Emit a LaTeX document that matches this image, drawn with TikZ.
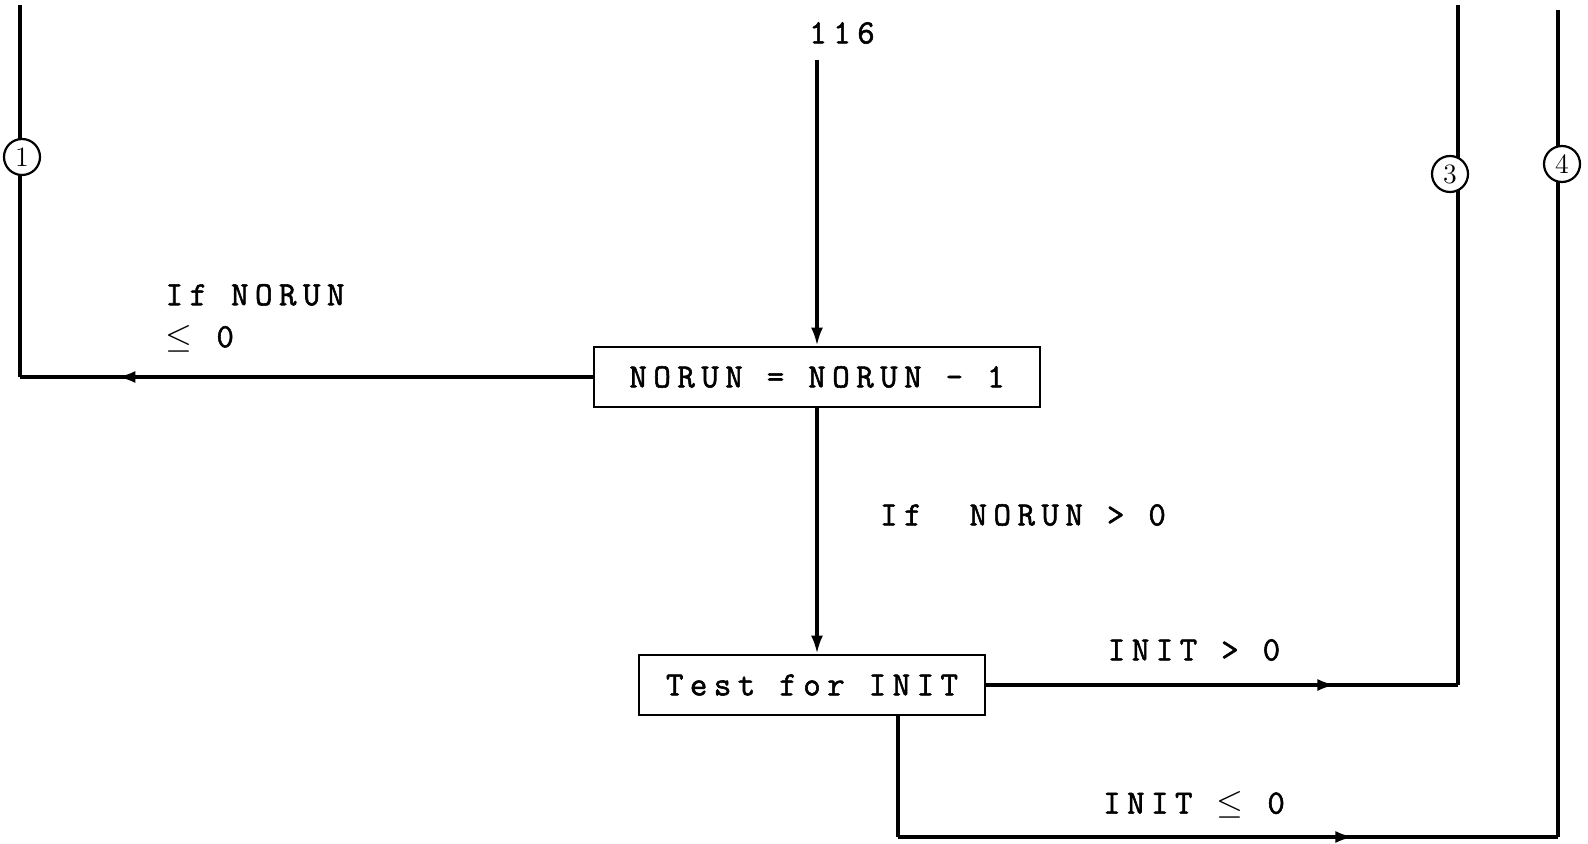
\documentclass[tikz,border=0pt]{standalone}
\usepackage{fontspec}
\setmonofont{Latin Modern Mono}[LetterSpace=19, FakeBold=1.6]
\usetikzlibrary{arrows.meta,decorations.markings}
\tikzset{
  flowbox/.style={draw, line width=1.4pt, font=\ttfamily\fontsize{17}{19}\selectfont, inner sep=0pt, minimum height=30pt},
  flowtext/.style={font=\ttfamily\fontsize{17}{19}\selectfont, inner sep=0pt},
  connector/.style={circle, draw, fill=white, line width=1.1pt, minimum size=18pt, inner sep=0pt, font=\fontsize{14}{14}\selectfont},
  midarrow/.style={postaction={decorate}, decoration={markings, mark=at position #1 with {\arrow{Latex[length=9pt,width=6pt]}}}}
}
\begin{document}
\begin{tikzpicture}[>={Latex[length=9pt,width=6pt]}, line width=1.6pt, x=0.5pt, y=-0.5pt]
  \useasboundingbox (0,0) rectangle (1588,844);
  \coordinate (inTop)      at (817,60);
  \coordinate (oneTop)     at (20,5);
  \coordinate (threeTop)   at (1458,5);
  \coordinate (fourTop)    at (1558,10);
  \coordinate (downCorner) at (898,837);
  \node[flowtext] (lbl116) at (842,33) {116};
  \node[flowbox, minimum width=223pt] (dec)  at (817,377) {NORUN = NORUN - 1};
  \node[flowbox, minimum width=173pt] (test) at (812,685) {Test for INIT};
  \draw[->] (inTop) -- (dec.north);
  \draw[->] (dec.south) -- (dec.south |- test.north);
  \draw[midarrow=0.83] (dec.west) -- (dec.west -| oneTop) coordinate (oneCorner);
  \draw (oneCorner) -- (oneTop);
  \draw[midarrow=0.74] (test.east) -- (test.east -| threeTop) coordinate (threeCorner);
  \draw (threeCorner) -- (threeTop);
  \draw (test.south -| downCorner) -- (downCorner);
  \draw[midarrow=0.69] (downCorner) -- (downCorner -| fourTop) coordinate (fourCorner);
  \draw (fourCorner) -- (fourTop);
  \node[connector] (c1) at (22,157) {1};
  \node[connector] (c3) at (1450,174) {3};
  \node[connector] (c4) at (1562,164) {4};
  \node[flowtext, align=left, anchor=west] (lblLe) at (164,318) {If NORUN\\[2pt]$\leq$ 0};
  \node[flowtext] (lblGt) at (1023,515) {If~~NORUN > 0};
  \node[flowtext] (lblInitGt) at (1194,650) {INIT > 0};
  \node[flowtext] (lblInitLe) at (1194,805) {INIT $\leq$ 0};
\end{tikzpicture}
\end{document}
